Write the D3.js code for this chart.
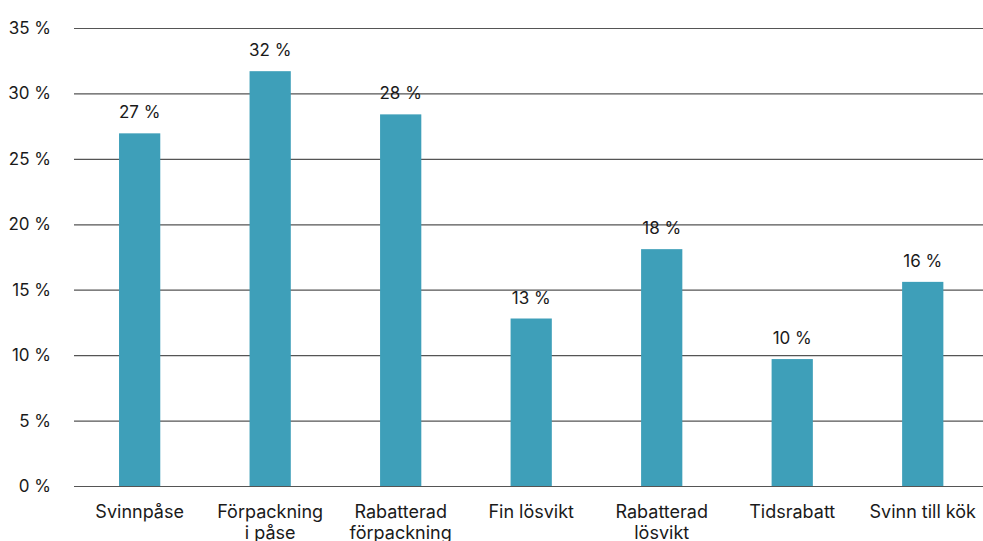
<!DOCTYPE html>
<html><head><meta charset="utf-8">
<script src="https://cdn.jsdelivr.net/npm/d3@7"></script>
<style>body{margin:0;background:#fff}svg{display:block}text{font-family:Inter,"Open Sans",sans-serif;fill:#1a1a1a}</style>
</head><body><svg id="c" width="983" height="541"></svg>
<script>
const categories = [["Svinnpåse"],["Förpackning","i påse"],["Rabatterad","förpackning"],["Fin lösvikt"],["Rabatterad","lösvikt"],["Tidsrabatt"],["Svinn till kök"]];
const values = [26.95, 31.7, 28.4, 12.8, 18.1, 9.7, 15.6];
const yTicks = [0,5,10,15,20,25,30,35];

const svg = d3.select("#c");
const W = 983, H = 541, left = 74;
const x = d3.scaleBand().domain(d3.range(categories.length)).range([74.4, 988]).paddingInner(0.684).paddingOuter(0.342);
const y = d3.scaleLinear().domain([0,35]).range([486, 28]);

const ga = svg.append("g").attr("transform",`translate(${left},0)`)
  .call(d3.axisLeft(y).tickValues(yTicks).tickSize(-(W-left)).tickFormat(d=>d+" %").tickPadding(23));
ga.select(".domain").remove();
ga.selectAll(".tick line").attr("stroke","#555").attr("stroke-width",1.2);
ga.selectAll(".tick text").attr("font-size",17).attr("fill","#1a1a1a").style("font-family","Inter,sans-serif");

svg.append("g").selectAll("rect").data(values).join("rect")
  .attr("x",(d,i)=>x(i)).attr("width",x.bandwidth())
  .attr("y",d=>y(d)).attr("height",d=>y(0)-y(d)).attr("fill","#3e9fb9");

svg.append("g").selectAll("text").data(values).join("text")
  .attr("x",(d,i)=>x(i)+x.bandwidth()/2).attr("y",d=>y(d)-15)
  .attr("text-anchor","middle").attr("font-size",17).text(d=>Math.round(d)+" %");

const xl = svg.append("g");
categories.forEach((lines,i)=>{
  const t = xl.append("text").attr("text-anchor","middle").attr("font-size",18)
    .attr("x", x(i)+x.bandwidth()/2).attr("y",518);
  lines.forEach((l,j)=>t.append("tspan").attr("x",x(i)+x.bandwidth()/2).attr("dy", j?21:0).text(l));
});
</script></body></html>
